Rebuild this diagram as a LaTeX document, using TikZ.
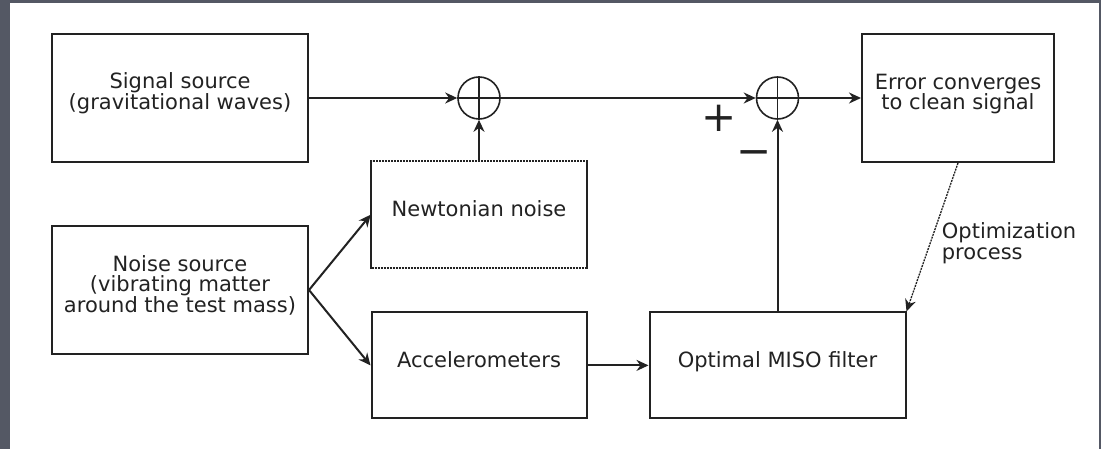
\documentclass[tikz,border=0pt]{standalone}
\usepackage{fontspec}
\setmainfont{DejaVu Sans}
\usetikzlibrary{arrows.meta}
\definecolor{slate}{RGB}{84,88,100}
\definecolor{ink}{RGB}{34,34,34}
\newcommand\blockfont{\fontsize{21}{20.5}\selectfont\lineskiplimit-20pt\relax}

\begin{document}
\begin{tikzpicture}[x=1pt,y=-1pt,
    block/.style={draw=ink, line width=2pt, inner sep=0pt},
    txt/.style={text=ink, align=center, inner sep=0pt, font=\blockfont},
    sum/.style={circle, draw=ink, line width=1.6pt, minimum size=42pt, inner sep=0pt},
    sign/.style={text=ink, inner sep=0pt, font=\fontsize{42}{42}\selectfont},
    flow/.style={draw=ink, line width=2pt, -{Stealth[length=12pt,width=11pt]}}]
    \fill[slate] (0,0) rectangle (1101,449);
    \fill[white] (10,3) rectangle (1099,449);

    \node[block, minimum width=256pt, minimum height=128pt] (sig) at (180,98) {};
    \node[txt] (sigtext) at ([yshift=5pt]sig.center) {Signal source\\(gravitational waves)};
    \node[block, minimum width=256pt, minimum height=128pt] (noise) at (180,290) {};
    \node[txt] (noisetext) at ([yshift=5pt]noise.center) {Noise source\\(vibrating matter\\around the test mass)};
    \node[block, densely dotted, line width=1.6pt, minimum width=215pt, minimum height=107pt] (newt) at (479,214.7) {};
    \node[txt] (newttext) at ([yshift=6pt]newt.center) {Newtonian noise};
    \node[block, minimum width=215pt, minimum height=106pt] (acc) at (479,365.4) {};
    \node[txt] (acctext) at ([yshift=6pt]acc.center) {Accelerometers};
    \node[block, minimum width=256pt, minimum height=106pt] (miso) at (777.5,365.4) {};
    \node[txt] (misotext) at ([yshift=4pt]miso.center) {Optimal MISO filter};
    \node[block, minimum width=192pt, minimum height=128pt] (err) at (958,98) {};
    \node[txt] (errtext) at ([yshift=4pt]err.center) {Error converges\\to clean signal};
    \node[sum] (s1) at (479,98) {};
    \node[sum] (s2) at (777.5,98) {};
    \node[sign] (plus) at (719.3,118.3) {+};
    \node[sign] (minus) at (754.3,158) {−};
    \node[txt, align=left, anchor=north west] (opt) at (941.7,222.5) {Optimization\\process};

    \draw[ink, line width=2pt] (newt.north west) -- (newt.south west) (newt.north east) -- (newt.south east);
    \draw[ink, line width=1.6pt] (s1.north) -- (s1.south) (s1.west) -- (s1.east);
    \draw[ink, line width=1.6pt] (s2.north) -- (s2.south) (s2.west) -- (s2.east);

    \draw[flow] (sig.east) -- (s1.west);
    \draw[flow] (newt.north) -- (s1.south);
    \draw[flow] (s1.east) -- (s2.west);
    \draw[flow] (s2.east) -- (err.west);
    \draw[flow] (noise.east) -- (newt.west);
    \draw[flow] (noise.east) -- (acc.west);
    \draw[flow] (acc.east) -- (miso.west);
    \draw[flow] (miso.north) -- (s2.south);
    \draw[flow, densely dotted, line width=1.3pt] (err.south) -- (miso.north east);
\end{tikzpicture}
\end{document}
